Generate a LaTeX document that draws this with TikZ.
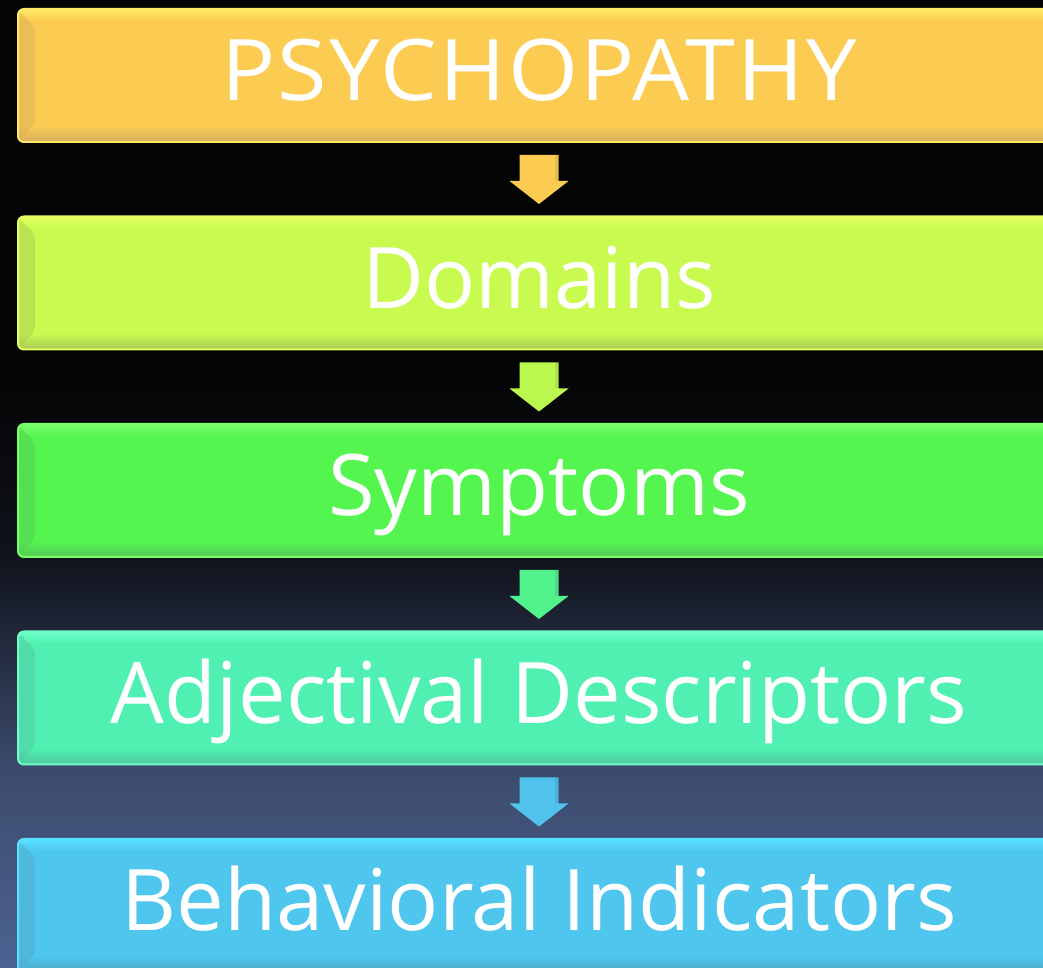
\documentclass[tikz,border=0pt]{standalone}
\usepackage{fontspec}
\setmainfont{Open Sans}
\usetikzlibrary{calc}

% tier colours: main fill, light rim, dark bevel
\definecolor{cA}{RGB}{252,204,82}  \definecolor{cAL}{RGB}{255,232,102} \definecolor{cAD}{RGB}{212,174,94}
\definecolor{cB}{RGB}{200,250,80}  \definecolor{cBL}{RGB}{228,255,100} \definecolor{cBD}{RGB}{170,200,88}
\definecolor{cC}{RGB}{85,245,80}   \definecolor{cCL}{RGB}{120,255,105} \definecolor{cCD}{RGB}{85,200,85}
\definecolor{cD}{RGB}{80,240,178}  \definecolor{cDL}{RGB}{110,255,200} \definecolor{cDD}{RGB}{80,196,160}
\definecolor{cE}{RGB}{78,198,238}  \definecolor{cEL}{RGB}{88,226,255}  \definecolor{cED}{RGB}{80,168,200}
% connector colours
\definecolor{aA}{RGB}{252,204,82}
\definecolor{aB}{RGB}{186,248,80}
\definecolor{aC}{RGB}{82,242,140}
\definecolor{aD}{RGB}{80,194,236}
% backdrop
\definecolor{bg0}{RGB}{77,98,146}
\definecolor{bg1}{RGB}{60,75,108}
\definecolor{bg2}{RGB}{16,19,28}
\definecolor{bg3}{RGB}{4,4,4}

\tikzset{
  tier/.style={
    rectangle, rounded corners=6pt,
    minimum width=1042pt, minimum height=133pt, inner sep=0pt,
    text height=60pt, text depth=9pt,
    font=\fontsize{85}{100}\selectfont, text=white,
    fill=c#1, draw=c#1L, line width=2pt,
    path picture={
      \coordinate (nw) at (path picture bounding box.north west);
      \coordinate (ne) at (path picture bounding box.north east);
      \coordinate (sw) at (path picture bounding box.south west);
      \coordinate (se) at (path picture bounding box.south east);
      \shade[top color=c#1L, bottom color=c#1] (nw) rectangle ($(ne)+(0,-12)$);
      \shade[top color=c#1, bottom color=c#1D] ($(sw)+(0,16)$) rectangle (se);
      \fill[c#1D, opacity=0.45] ($(nw)+(0,-1)$) -- ($(nw)+(17,-18)$)
           -- ($(sw)+(17,18)$) -- ($(sw)+(0,1)$) -- cycle;
    }
  }
}

% block arrow from the bottom of one tier to the top of the next
\newcommand\tierarrow[3]{%
  \fill[#3] ($(#1.south)+(-19.5,-12)$) -- ($(#1.south)+(19.5,-12)$)
    -- ($(#1.south)+(19.5,-38)$) -- ($(#1.south)+(29.5,-38)$)
    -- ($(#2.north)+(0,11.5)$)
    -- ($(#1.south)+(-29.5,-38)$) -- ($(#1.south)+(-19.5,-38)$) -- cycle;
  \fill[black, opacity=0.08] ($(#1.south)+(15.5,-12)$) rectangle ($(#1.south)+(19.5,-38)$);
}

\begin{document}
\begin{tikzpicture}[x=1pt, y=1pt]
  \useasboundingbox (0,0) rectangle (1043,968);
  \clip (0,0) rectangle (1043,968);

  % backdrop: black above, fading to slate blue at the bottom
  \fill[bg3] (0,600) rectangle (1043,968);
  \shade[bottom color=bg2, top color=bg3] (0,410) rectangle (1043,600);
  \shade[bottom color=bg1, top color=bg2] (0,200) rectangle (1043,410);
  \shade[bottom color=bg0, top color=bg1] (0,0) rectangle (1043,200);

  % tiers
  \node[tier=A] (psy) at (539,892.5) {\addfontfeature{LetterSpace=2.5}\scalebox{1.06}[1]{PSYCHOPATHY}};
  \node[tier=B] (dom) at (539,685)   {Domains};
  \node[tier=C] (sym) at (539,477.5) {Symptoms};
  \node[tier=D] (adj) at (539,270)   {Adjectival Descriptors};
  \node[tier=E] (beh) at (539,62.5)  {Behavioral Indicators};

  % connectors
  \tierarrow{psy}{dom}{aA}
  \tierarrow{dom}{sym}{aB}
  \tierarrow{sym}{adj}{aC}
  \tierarrow{adj}{beh}{aD}
\end{tikzpicture}
\end{document}
